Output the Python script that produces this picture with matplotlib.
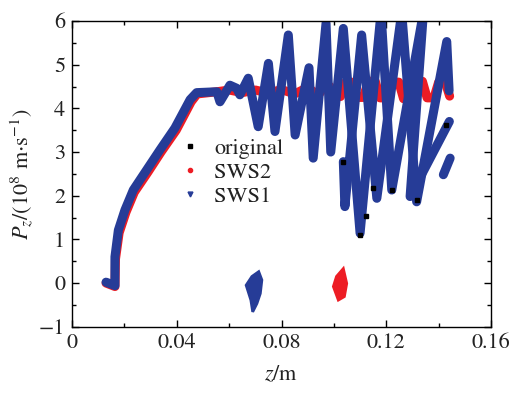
import numpy as np
import matplotlib.pyplot as plt
from matplotlib.lines import Line2D
from matplotlib.ticker import MultipleLocator

plt.rcParams['font.family'] = ['STIXGeneral', 'DejaVu Serif']
plt.rcParams['mathtext.fontset'] = 'stix'

# SWS1 (blue), main strand
sws1_z = [0.0130, 0.0164, 0.0164, 0.0177, 0.0202, 0.0234, 0.0285, 0.0336,
          0.0393, 0.0451, 0.0476, 0.0553, 0.0565, 0.0603, 0.0629, 0.0641,
          0.0673, 0.0711, 0.0750, 0.0775, 0.0826, 0.0852, 0.0905, 0.0921,
          0.0970, 0.0988, 0.1036, 0.1100, 0.1180, 0.1221, 0.1342, 0.1291,
          0.1441]
sws1_p = [0.02, -0.06, 0.60, 1.21, 1.67, 2.13, 2.59, 3.05,
          3.55, 4.20, 4.36, 4.38, 4.15, 4.53, 4.46, 4.31,
          4.69, 3.58, 5.03, 3.47, 5.68, 3.39, 4.93, 2.86,
          5.95, 3.00, 5.83, 1.14, 6.20, 2.13, 6.20, 1.98,
          3.70]
# SWS1, lagging strand and loose bits
sws1b_z = [0.1036, 0.1042, 0.1106, 0.1164, 0.1259, 0.1316, 0.1431, 0.1440]
sws1b_p = [2.78, 1.75, 5.68, 1.94, 6.20, 1.86, 5.53, 4.40]
sws1c_z = [0.1444, 0.1418]
sws1c_p = [2.86, 2.48]
# SWS1 blob near z=0.07
blob1_z = [0.0713, 0.0725, 0.0719, 0.0706, 0.0690, 0.0683, 0.0665, 0.0687]
blob1_p = [0.26, 0.07, -0.24, -0.47, -0.66, -0.39, -0.05, 0.15]

# SWS2 (red)
sws2_z = [0.0130, 0.0164, 0.0166, 0.0180, 0.0206, 0.0238, 0.0290, 0.0340,
          0.0398, 0.0455, 0.0478, 0.0553, 0.0600, 0.0650, 0.0700, 0.0750,
          0.0800, 0.0850, 0.0900, 0.0940, 0.0965, 0.0985, 0.1005, 0.1025,
          0.1045, 0.1068, 0.1088, 0.1112, 0.1132, 0.1158, 0.1176, 0.1202,
          0.1222, 0.1248, 0.1266, 0.1292, 0.1312, 0.1338, 0.1356, 0.1382,
          0.1400, 0.1425, 0.1442]
sws2_p = [0.00, -0.08, 0.55, 1.15, 1.62, 2.08, 2.54, 3.00,
          3.50, 4.15, 4.33, 4.38, 4.42, 4.36, 4.42, 4.35,
          4.43, 4.33, 4.48, 4.30, 4.50, 4.50, 4.27, 4.27,
          4.60, 4.60, 4.25, 4.25, 4.62, 4.62, 4.24, 4.24,
          4.60, 4.60, 4.22, 4.22, 4.62, 4.62, 4.24, 4.24,
          4.60, 4.60, 4.28]
# SWS2 blob near z=0.103
blob2_z = [0.1036, 0.1049, 0.1040, 0.1017, 0.0998, 0.1010]
blob2_p = [0.33, -0.01, -0.31, -0.39, -0.08, 0.15]

# original (black), only the visible specks
orig_z = [0.1036, 0.1123, 0.1101, 0.1221, 0.1316, 0.1430, 0.1151]
orig_p = [2.78, 1.53, 1.10, 2.13, 1.90, 3.63, 2.17]

blue = '#263c97'
red = '#ed1c24'
txt = '#222222'

fig = plt.figure(figsize=(5.31, 3.95), dpi=100, facecolor='white')
ax = fig.add_axes([0.1356, 0.1729, 0.7891, 0.7739])

lw = 6.5
ax.plot(sws2_z, sws2_p, color=red, lw=lw, solid_capstyle='round', solid_joinstyle='round')
ax.fill(blob2_z, blob2_p, color=red, lw=2, ec=red)
for zz, pp in [(sws1_z, sws1_p), (sws1b_z, sws1b_p), (sws1c_z, sws1c_p)]:
    ax.plot(zz, pp, color=blue, lw=lw, solid_capstyle='round', solid_joinstyle='round')
ax.fill(blob1_z, blob1_p, color=blue, lw=2, ec=blue)
ax.plot(orig_z, orig_p, 's', color='black', ms=2.5, ls='none')

ax.set_xlim(0, 0.16)
ax.set_ylim(-1, 6)
ax.xaxis.set_minor_locator(MultipleLocator(0.02))
ax.yaxis.set_minor_locator(MultipleLocator(0.5))
ax.set_xticks([0, 0.04, 0.08, 0.12, 0.16])
ax.set_xticklabels(['0', '0.04', '0.08', '0.12', '0.16'])
ax.set_yticks([-1, 0, 1, 2, 3, 4, 5, 6])
ax.set_yticklabels(['\u22121', '0', '1', '2', '3', '4', '5', '6'])
ax.tick_params(which='both', direction='in', top=True, right=True, labelsize=16,
               width=1.0, colors='black', labelcolor=txt)
ax.tick_params(which='major', length=5, pad=5)
ax.tick_params(which='minor', length=3)
for s in ax.spines.values():
    s.set_linewidth(1.0)

ax.set_xlabel(r'$z$/m', fontsize=16, color=txt, labelpad=8)
ax.set_ylabel(r'$P_z$/(10$^8$ m$\cdot$s$^{-1}$)', fontsize=16, color=txt, labelpad=2)

handles = [Line2D([], [], marker='s', color='black', ls='none', ms=3),
           Line2D([], [], marker='o', color=red, ls='none', ms=3),
           Line2D([], [], marker='v', color=blue, ls='none', ms=3.5)]
leg = ax.legend(handles, ['original', 'SWS2', 'SWS1'], loc='upper left',
                bbox_to_anchor=(0.255, 0.615), frameon=False, fontsize=16,
                handlelength=1.0, handletextpad=0.6, labelspacing=0.15,
                borderpad=0.0, borderaxespad=0.0)
for t in leg.get_texts():
    t.set_color(txt)

fig.savefig('out.png', dpi=100, facecolor='white')
